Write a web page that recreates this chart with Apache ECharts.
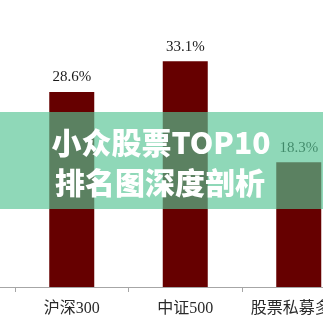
<!DOCTYPE html>
<html>
<head>
<meta charset="utf-8">
<script src="https://cdn.jsdelivr.net/npm/echarts@6/dist/echarts.min.js"></script>
<style>
html,body{margin:0;padding:0;background:#fff;}
#c{width:323px;height:323px;}
</style>
</head>
<body>
<div id="c"></div>
<script>
var categories = ['', '沪深300', '中证500', '股票私募多头'];
var values = [null, 28.6, 33.1, 18.3];
var titleLines = ['小众股票TOP10', '排名图深度剖析'];

var chart = echarts.init(document.getElementById('c'), null, {renderer: 'canvas'});
chart.setOption({
  animation: false,
  backgroundColor: '#ffffff',
  grid: {left: -98.5, right: -32.5, top: 14.2, bottom: 36, containLabel: false, outerBoundsMode: 'none'},
  xAxis: {
    type: 'category',
    data: categories,
    axisLine: {lineStyle: {color: '#a6a6a6', width: 1}},
    axisTick: {show: true, length: 5, lineStyle: {color: '#a6a6a6'}},
    axisLabel: {
      color: '#2a2a2a',
      fontSize: 16,
      fontFamily: '"Liberation Serif", "Noto Sans CJK SC", serif',
      margin: 14,
      interval: 0,
      hideOverlap: false
    }
  },
  yAxis: {
    type: 'value', min: 0, max: 40, show: false,
    splitLine: {show: false}
  },
  series: [{
    type: 'bar',
    data: values,
    barWidth: 45,
    itemStyle: {color: '#660000'},
    label: {
      show: true,
      position: 'top',
      distance: 7,
      color: '#1a1a1a',
      fontSize: 15,
      fontFamily: '"Liberation Serif", serif',
      formatter: function (p) { return p.value == null ? '' : p.value.toFixed(1) + '%'; }
    }
  }],
  graphic: [
    {
      type: 'rect', z: 100,
      shape: {x: 0, y: 112, width: 323, height: 97},
      style: {fill: 'rgba(85,196,147,0.66)'}
    },
    {
      type: 'text', z: 101,
      x: 161, y: 143,
      style: {
        text: titleLines[0],
        fill: '#ffffff',
        font: '900 30px "Noto Sans CJK SC", sans-serif',
        textAlign: 'center', textVerticalAlign: 'middle'
      }
    },
    {
      type: 'text', z: 101,
      x: 160, y: 183,
      style: {
        text: titleLines[1],
        fill: '#ffffff',
        font: '900 30px "Noto Sans CJK SC", sans-serif',
        textAlign: 'center', textVerticalAlign: 'middle'
      }
    }
  ]
});
</script>
</body>
</html>
